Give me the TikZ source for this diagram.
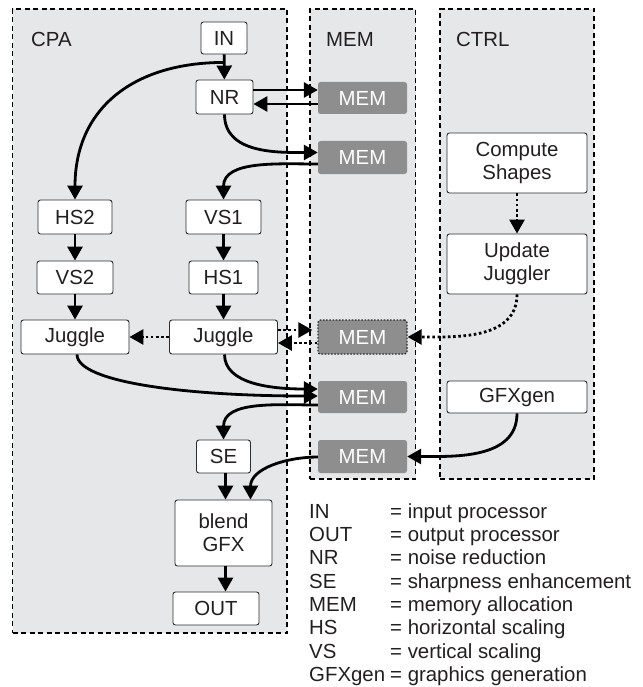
\documentclass[tikz,border=0pt]{standalone}
\usepackage{fontspec}
\setmainfont{Liberation Sans}
\usetikzlibrary{arrows.meta}
\definecolor{grpfill}{RGB}{230,231,232}
\definecolor{memfill}{RGB}{142,142,142}
\definecolor{bordc}{RGB}{45,45,45}
\definecolor{txtc}{RGB}{35,31,32}
\newcommand\diafont{\fontsize{20.4}{23}\selectfont}
\begin{document}
\begin{tikzpicture}[x=1pt,y=1pt,
  grpbox/.style={draw=black, fill=grpfill, dash pattern=on 5pt off 3.5pt, line width=1.1pt, inner sep=0pt},
  grplabel/.style={anchor=west, font=\diafont, text=txtc, inner sep=0pt},
  box/.style={draw=bordc, fill=white, rounded corners=2.5pt, line width=0.9pt, inner sep=0pt, font=\diafont, text=txtc, align=center},
  membox/.style={fill=memfill, rounded corners=2.5pt, inner sep=0pt, minimum width=89pt, font=\diafont, text=white},
  arr/.style={line width=2.8pt, draw=black, -{Triangle[length=14pt,width=15pt]}},
  dotarr/.style={arr, dash pattern=on 2.6pt off 2.6pt},
  legtxt/.style={anchor=base west, font=\diafont, text=txtc, inner sep=0pt}
]
\useasboundingbox (0,0) rectangle (642,-687);
% groups
\node[grpbox, minimum width=274.5pt, minimum height=624pt] (cpa) at (149.75,-321) {};
\node[grpbox, minimum width=105.5pt, minimum height=470pt] (memg) at (362.75,-244) {};
\node[grpbox, minimum width=154pt, minimum height=470pt] (ctrl) at (517,-244) {};
\node[grplabel] (cpal) at (31,-39) {CPA};
\node[grplabel] (meml) at (326,-39) {MEM};
\node[grplabel] (ctrll) at (456,-39) {CTRL};
% CPA nodes
\node[box, minimum width=46pt, minimum height=32pt] (in) at (224,-38) {IN};
\node[box, minimum width=57pt, minimum height=34pt] (nr) at (224.5,-97) {NR};
\node[box, minimum width=74pt, minimum height=34pt] (hs2) at (75,-217) {HS2};
\node[box, minimum width=75pt, minimum height=34pt] (vs1) at (223.5,-217) {VS1};
\node[box, minimum width=76pt, minimum height=33pt] (vs2) at (75,-277.5) {VS2};
\node[box, minimum width=69pt, minimum height=33pt] (hs1) at (223.5,-277.5) {HS1};
\node[box, minimum width=108pt, minimum height=34pt] (jugl) at (75,-337) {Juggle};
\node[box, minimum width=108pt, minimum height=34pt] (jugr) at (223.5,-337) {Juggle};
\node[box, minimum width=54pt, minimum height=33pt] (se) at (223.5,-456.5) {SE};
\node[box, minimum width=97pt, minimum height=66pt] (blend) at (223.5,-533) {blend\\GFX};
\node[box, minimum width=86pt, minimum height=33pt] (out) at (216,-608.5) {OUT};
% MEM nodes
\node[membox, minimum height=32pt] (mem1) at (362.5,-98) {MEM};
\node[membox, minimum height=33pt] (mem2) at (362.5,-157.5) {MEM};
\node[membox, minimum height=34pt, draw=bordc, line width=1.3pt, dash pattern=on 1.6pt off 1.6pt] (mem3) at (362.5,-337) {MEM};
\node[membox, minimum height=32pt] (mem4) at (362.5,-397) {MEM};
\node[membox, minimum height=33pt] (mem5) at (362.5,-456.5) {MEM};
% CTRL nodes
\node[box, minimum width=140pt, minimum height=60pt] (comp) at (517,-163) {Compute\\Shapes};
\node[box, minimum width=140pt, minimum height=60pt] (upd) at (517,-264) {Update\\Juggler};
\node[box, minimum width=140pt, minimum height=32pt] (gfx) at (517,-397) {GFXgen};
% connectors
\coordinate (inbr) at ([yshift=-8pt]in.south);
\draw[arr] (in) -- (nr);
\draw[arr] (inbr) to[out=180,in=90,looseness=1.15] (hs2.north);
\draw[arr] ([yshift=7pt]nr.east) -- ([yshift=7pt]nr.east -| mem1.west);
\draw[arr] ([yshift=-6pt]mem1.west) -- ([yshift=-6pt]mem1.west -| nr.east);
\draw[arr] (nr.south) to[out=-90,in=180] ([yshift=5pt]mem2.west);
\draw[arr] ([yshift=-6.5pt]mem2.west) to[out=180,in=90] (vs1.north);
\draw[arr] (hs2) -- (vs2);
\draw[arr] (vs2) -- (jugl);
\draw[arr] (vs1) -- (hs1);
\draw[arr] (hs1) -- (jugr);
\draw[dotarr] (jugr.west) -- (jugl.east);
\draw[dotarr] ([yshift=7pt]jugr.east) -- ([yshift=7pt,xshift=-5pt]jugr.east -| mem3.west);
\draw[dotarr] ([yshift=-6pt]mem3.west) -- ([yshift=-6pt]mem3.west -| jugr.east);
\draw[dotarr] (comp) -- (upd);
\draw[dotarr] (upd.south) to[out=-90,in=0] (mem3.east);
\draw[arr] ([xshift=1pt]jugr.south) to[out=-90,in=180,out distance=30pt,in distance=45pt] ([yshift=8pt]mem4.west);
\draw[arr] ([xshift=2pt]jugl.south) to[out=-90,in=180,out distance=28pt,in distance=130pt] ([yshift=1pt]mem4.west);
\draw[arr] ([yshift=-8pt]mem4.west) to[out=180,in=90] (se.north);
\draw[arr] (gfx.south) to[out=-90,in=0] (mem5.east);
\draw[arr] ([yshift=-0.5pt]mem5.west) to[out=180,in=90] ([xshift=27pt]blend.north);
\draw[arr] ([xshift=2pt]se.south) -- ([xshift=2pt]se.south |- blend.north);
\draw[arr] ([xshift=2pt]blend.south) -- ([xshift=2pt]blend.south |- out.north);
% legend
\node[legtxt] (l1a) at (309,-518.3) {IN};
\node[legtxt] (l1b) at (390,-518.3) {= input processor};
\node[legtxt] (l2a) at (309,-541.6) {OUT};
\node[legtxt] (l2b) at (390,-541.6) {= output processor};
\node[legtxt] (l3a) at (309,-564.9) {NR};
\node[legtxt] (l3b) at (390,-564.9) {= noise reduction};
\node[legtxt] (l4a) at (309,-588.2) {SE};
\node[legtxt] (l4b) at (390,-588.2) {= sharpness enhancement};
\node[legtxt] (l5a) at (309,-611.5) {MEM};
\node[legtxt] (l5b) at (390,-611.5) {= memory allocation};
\node[legtxt] (l6a) at (309,-634.8) {HS};
\node[legtxt] (l6b) at (390,-634.8) {= horizontal scaling};
\node[legtxt] (l7a) at (309,-658.1) {VS};
\node[legtxt] (l7b) at (390,-658.1) {= vertical scaling};
\node[legtxt] (l8a) at (309,-681.4) {GFXgen};
\node[legtxt] (l8b) at (390,-681.4) {= graphics generation};
\end{tikzpicture}
\end{document}
